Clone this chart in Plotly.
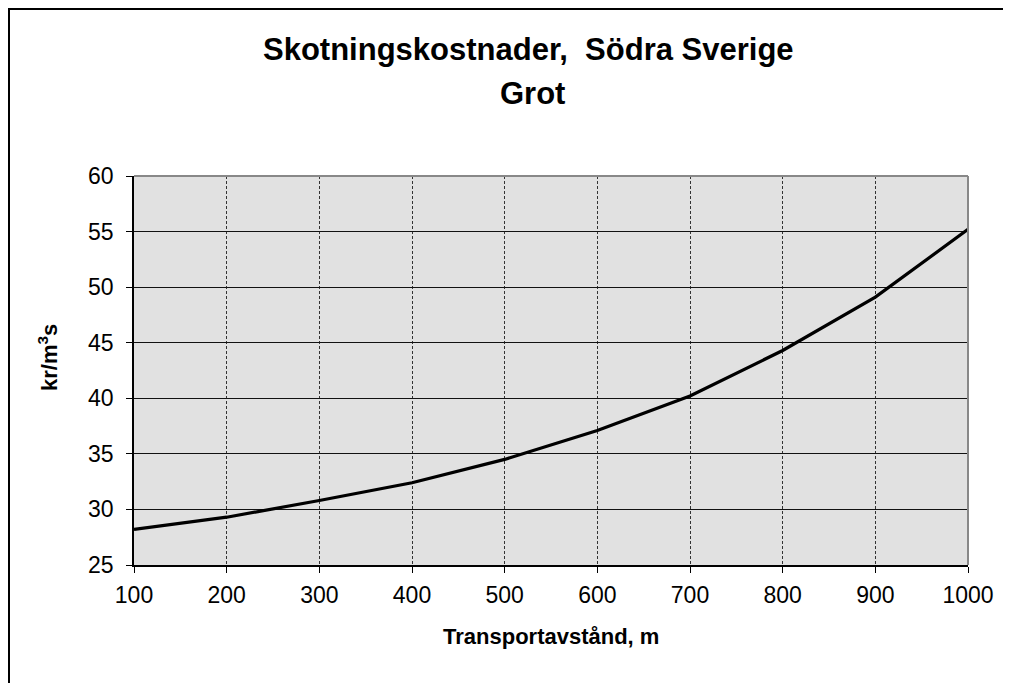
import plotly.graph_objects as go

distance_m = [100, 200, 300, 400, 500, 600, 700, 800, 900, 1000]
cost_kr = [28.2, 29.3, 30.8, 32.4, 34.5, 37.1, 40.2, 44.3, 49.1, 55.2]

title_line1 = "Skotningskostnader,  Södra Sverige"
title_line2 = "Grot"
x_title = "Transportavstånd, m"
y_title = "kr/m<sup>3</sup>s"

W, H = 1011, 683
# the page body has an 8px margin, so figure coords = screen coords - 8
L, R, T, B = 126, 51, 168, 126
pw, ph = W - L - R, H - T - B

FONT = "Liberation Sans, Arial, sans-serif"


def px_x(x):
    return (x - L) / pw


def px_y(y):
    return (H - B - y) / ph


fig = go.Figure()
fig.add_trace(go.Scatter(x=distance_m, y=cost_kr, mode="lines",
                         line=dict(color="black", width=3.2), showlegend=False))

fig.update_layout(
    width=W, height=H,
    margin=dict(l=L, r=R, t=T, b=B),
    paper_bgcolor="white",
    plot_bgcolor="#e1e1e1",
    font=dict(family=FONT, color="black"),
    xaxis=dict(range=[100, 1000], tickvals=distance_m, ticks="outside", ticklen=6,
               tickcolor="black", showline=True, linecolor="black", linewidth=1.5,
               showgrid=True, gridcolor="#333333", gridwidth=1, griddash="3px,2px",
               zeroline=False, tickfont=dict(size=23), ticklabelstandoff=3),
    yaxis=dict(range=[25, 60], dtick=5, ticks="outside", ticklen=6,
               tickcolor="black", showline=True, linecolor="black", linewidth=1.5,
               showgrid=True, gridcolor="#111111", gridwidth=1,
               zeroline=False, tickfont=dict(size=23), ticklabelstandoff=8),
)

# title (two lines)
fig.add_annotation(text=f"<b>{title_line1}</b>", xref="paper", yref="paper",
                   x=px_x(520), y=px_y(42), xanchor="center", yanchor="middle",
                   showarrow=False, font=dict(size=31, family=FONT, color="black"))
fig.add_annotation(text=f"<b>{title_line2}</b>", xref="paper", yref="paper",
                   x=px_x(524), y=px_y(85), xanchor="center", yanchor="middle",
                   showarrow=False, font=dict(size=31, family=FONT, color="black"))

# axis titles
fig.add_annotation(text=f"<b>{x_title}</b>", xref="paper", yref="paper",
                   x=0.5, y=px_y(628), xanchor="center", yanchor="middle",
                   showarrow=False, font=dict(size=22, family=FONT, color="black"))
fig.add_annotation(text=f"<b>{y_title}</b>", xref="paper", yref="paper",
                   x=px_x(40), y=px_y(350), xanchor="center", yanchor="middle",
                   textangle=-90, showarrow=False,
                   font=dict(size=22, family=FONT, color="black"))

# gray border on top and right of plot area
fig.add_shape(type="line", xref="paper", yref="paper", x0=0, x1=1, y0=1, y1=1,
              line=dict(color="#888888", width=2), layer="above")
fig.add_shape(type="line", xref="paper", yref="paper", x0=1, x1=1, y0=0, y1=1,
              line=dict(color="#888888", width=2), layer="above")

# outer frame (left and top visible, extends beyond right/bottom)
fig.add_shape(type="rect", xref="paper", yref="paper",
              x0=px_x(1), x1=px_x(W + 30), y0=px_y(H + 30), y1=px_y(1),
              line=dict(color="black", width=2), layer="above")

fig.write_html("out.html")
